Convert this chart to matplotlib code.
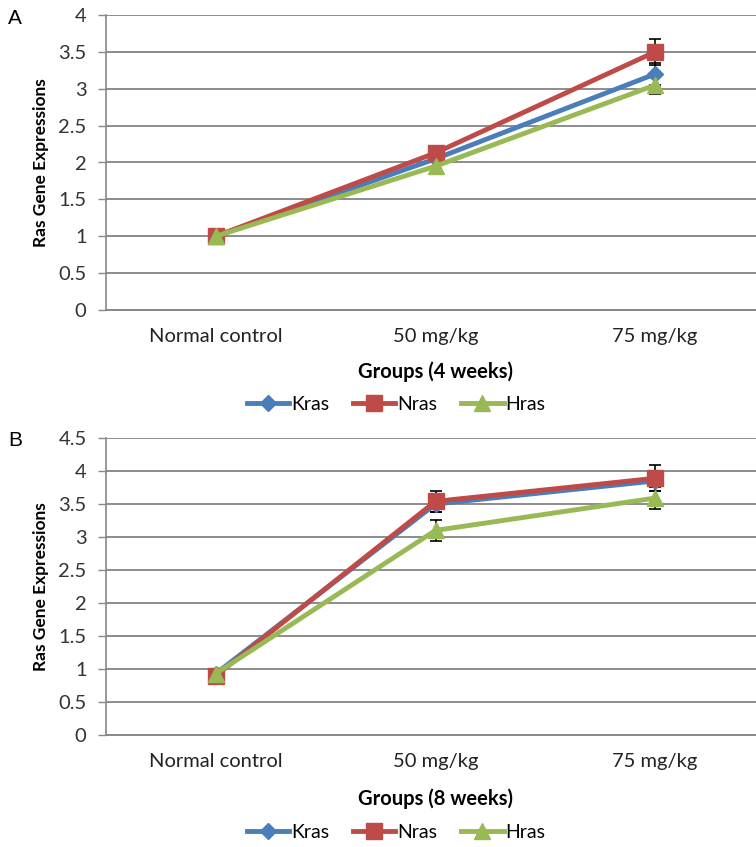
import matplotlib
matplotlib.use("Agg")
import matplotlib.pyplot as plt

groups = ["Normal control", "50 mg/kg", "75 mg/kg"]

# Panel A (4 weeks)
kras_4w = [1.0, 2.05, 3.2]
nras_4w = [1.0, 2.13, 3.5]
hras_4w = [1.0, 1.95, 3.05]
kras_4w_err = [0.02, 0.05, 0.15]
nras_4w_err = [0.02, 0.05, 0.18]
hras_4w_err = [0.02, 0.05, 0.12]

# Panel B (8 weeks)
kras_8w = [0.93, 3.5, 3.85]
nras_8w = [0.9, 3.54, 3.89]
hras_8w = [0.93, 3.1, 3.59]
kras_8w_err = [0.02, 0.12, 0.15]
nras_8w_err = [0.02, 0.16, 0.2]
hras_8w_err = [0.02, 0.16, 0.17]

series_names = ["Kras", "Nras", "Hras"]
colors = ["#4A7EBB", "#BE4B48", "#98B954"]
markers = ["D", "s", "^"]
msizes = [8, 11, 11]

plt.rcParams['font.family'] = ['Lato', 'DejaVu Sans']

fig = plt.figure(figsize=(7.56, 8.47), dpi=100)
W, H = 756, 847

def make_axes(top_px, bottom_px):
    left, right = 106, 765
    return fig.add_axes([left / W, 1 - bottom_px / H, (right - left) / W, (bottom_px - top_px) / H])

panels = [
    (make_axes(15, 310), 15, 310, [kras_4w, nras_4w, hras_4w], [kras_4w_err, nras_4w_err, hras_4w_err],
     4, 0.5, "Groups (4 weeks)", 372, 404, "A", 18),
    (make_axes(438, 735), 438, 735, [kras_8w, nras_8w, hras_8w], [kras_8w_err, nras_8w_err, hras_8w_err],
     4.5, 0.5, "Groups (8 weeks)", 799, 832, "B", 440),
]

x = list(range(len(groups)))
for ax, top_px, bot_px, data, errs, ymax, step, xtitle, xt_y, leg_y, letter, letter_y in panels:
    handles = []
    for vals, err, c, m, ms, name in zip(data, errs, colors, markers, msizes, series_names):
        ax.errorbar(x, vals, yerr=err, fmt='none', ecolor='black', elinewidth=1.2,
                    capsize=4, capthick=1.2, zorder=2)
        h, = ax.plot(x, vals, color=c, lw=3.5, marker=m, ms=ms, mfc=c, mec=c, label=name, zorder=3)
        handles.append(h)
    ax.set_xlim(-0.5, 2.5)
    ax.set_ylim(0, ymax)
    n = int(round(ymax / step))
    ticks = [i * step for i in range(n + 1)]
    ax.set_yticks(ticks)
    ax.set_yticklabels([("%g" % t) for t in ticks], fontsize=14.5, color="#333333")
    ax.set_xticks(x)
    ax.set_xticklabels(groups, fontsize=14.5, color="#222222")
    ax.tick_params(axis='x', length=0, pad=13)
    ax.tick_params(axis='y', length=6, width=1, color='#888888', pad=8)
    for t in ticks:
        ax.axhline(t, color='#8c8c8c', lw=1.4, zorder=1)
    for s in ['top', 'right']:
        ax.spines[s].set_visible(False)
    ax.spines['left'].set_color('#888888')
    ax.spines['bottom'].set_color('#888888')
    ax.spines['left'].set_linewidth(1.2)
    ax.spines['bottom'].set_linewidth(1.4)
    ax.set_ylabel("Ras Gene Expressions", fontsize=12.5, fontweight='bold')
    ax.yaxis.label.set_va('center')
    ax.yaxis.set_label_coords((41 - 106) / 659, 0.5)
    ax.set_xlabel(xtitle, fontsize=14.5, fontweight='bold')
    ax.xaxis.set_label_coords((436 - 106) / 659, -(xt_y - bot_px) / (bot_px - top_px))
    ax.xaxis.label.set_va('center')
    fig.legend(handles=handles, loc='center', bbox_to_anchor=(396 / W, 1 - leg_y / H),
               ncol=3, frameon=False, fontsize=14, handlelength=2.2, columnspacing=1.2,
               handletextpad=0.1)
    fig.text(8 / W, 1 - letter_y / H, letter, fontsize=15, family='Liberation Sans', va='center')

fig.savefig("out.png", dpi=100)
